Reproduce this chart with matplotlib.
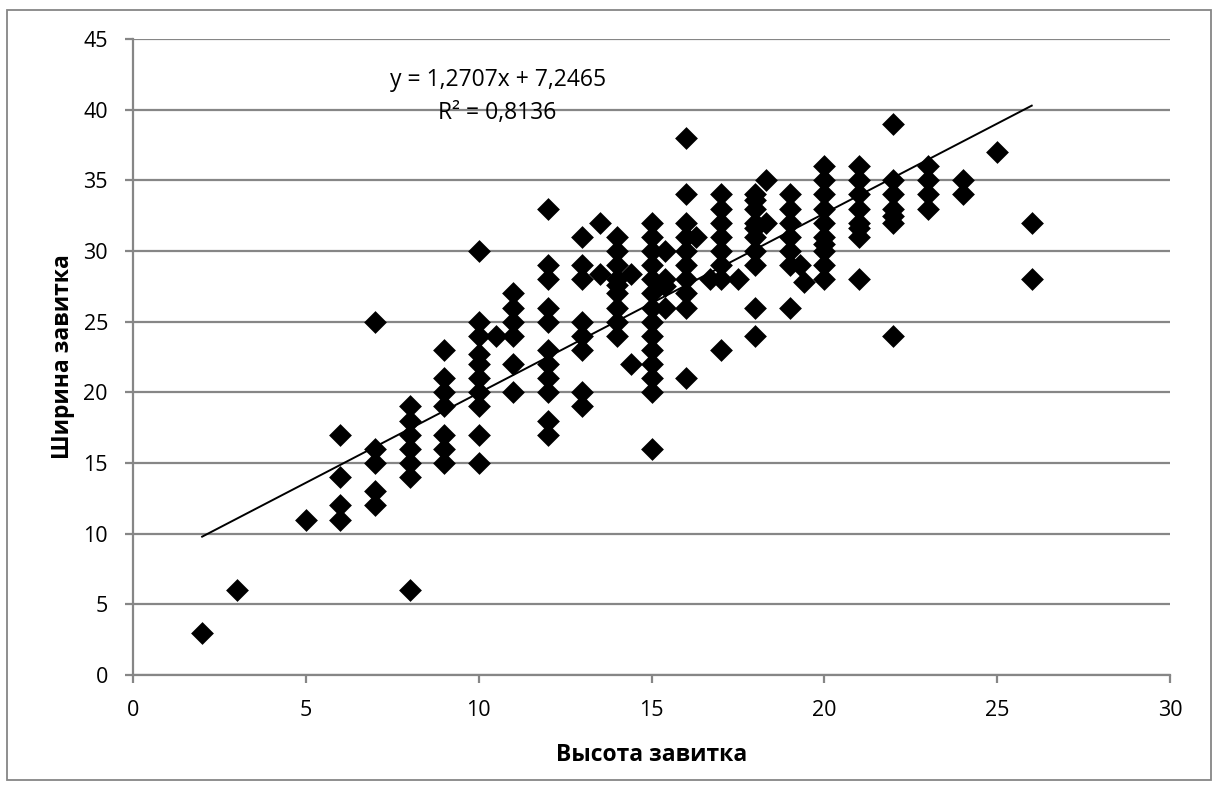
import matplotlib
matplotlib.use("Agg")
import matplotlib.pyplot as plt
from matplotlib.patches import Rectangle
import numpy as np

plt.rcParams['font.family'] = ['Open Sans', 'DejaVu Sans']

# data, grouped by x column
height = ([2] + [3] + [5] + [6]*4 + [7]*5 + [8]*7 + [9]*7 + [10]*10 + [10.5]
          + [11]*6 + [12]*11 + [13]*8 + [13.5]*2 + [14]*9 + [14.4]*2 + [15]*14
          + [15.4]*4 + [16]*10 + [16.3] + [16.7] + [17]*8 + [17.5] + [18]*10
          + [18.3]*2 + [19]*7 + [19.3] + [19.4] + [20]*10 + [21]*8 + [22]*7
          + [23]*4 + [24]*2 + [25] + [26]*2)
width = ([3] + [6] + [11] + [11, 12, 14, 17] + [12, 13, 15, 16, 25]
         + [6, 14, 15, 16, 17, 18, 19] + [15, 16, 17, 19, 20, 21, 23]
         + [15, 17, 19, 20, 21, 22, 22.7, 24, 25, 30] + [24]
         + [20, 22, 24, 25, 26, 27]
         + [17, 18, 20, 21, 22, 23, 25, 26, 28, 29, 33]
         + [19, 20, 23, 24, 25, 28, 29, 31] + [28.4, 32]
         + [24, 25, 26, 27, 27.6, 28, 29, 30, 31] + [22, 28.4]
         + [16, 20, 21, 22, 23, 24, 25, 26, 27, 28, 29, 30, 31, 32]
         + [26, 27.5, 28, 30]
         + [21, 26, 27, 28, 29, 30, 31, 32, 34, 38] + [31] + [28]
         + [23, 28, 29, 30, 31, 32, 33, 34] + [28]
         + [24, 26, 29, 30, 31, 31.6, 32, 33, 33.6, 34] + [32, 35]
         + [26, 29, 30, 31, 32, 33, 34] + [29] + [27.8]
         + [28, 29, 30, 30.5, 31, 32, 33, 34, 35, 36]
         + [28, 31, 31.6, 32, 33, 34, 35, 36]
         + [24, 32, 32.5, 33, 34, 35, 39] + [33, 34, 35, 36] + [34, 35]
         + [37] + [28, 32])

slope = 1.2707
intercept = 7.2465
r2 = 0.8136

W, H = 1216, 791
fig = plt.figure(figsize=(W/100, H/100), dpi=100)
ax = fig.add_axes([133/W, (H-675)/H, (1170-133)/W, (675-39)/H])

grey = '#868686'
ax.scatter(height, width, marker='D', s=135, color='black', zorder=3, linewidths=0)

xs = np.array([min(height), max(height)])
ax.plot(xs, slope*xs + intercept, color='black', lw=1.4, zorder=4)

ax.set_xlim(0, 30)
ax.set_ylim(0, 45)
ax.set_xticks(range(0, 31, 5))
ax.set_yticks(range(0, 46, 5))
ax.yaxis.grid(True, color=grey, lw=1.6)
ax.set_axisbelow(True)
for s in ['top', 'right']:
    ax.spines[s].set_visible(False)
for s in ['left', 'bottom']:
    ax.spines[s].set_color(grey)
    ax.spines[s].set_linewidth(1.6)
ax.tick_params(axis='both', colors=grey, length=6, width=1.6, labelsize=15.5,
               labelcolor='black', pad=12)

ax.set_xlabel('Высота завитка', fontsize=16.5, fontweight='bold', labelpad=16)
ax.set_ylabel('Ширина завитка', fontsize=16.5, fontweight='bold', labelpad=6)

ax.text(10.55, 42.1, 'y = ' + f'{slope:.4f}'.replace('.', ',') + 'x + '
        + f'{intercept:.4f}'.replace('.', ','), ha='center', va='center', fontsize=16.5)
ax.text(10.55, 39.75, 'R² = ' + f'{r2:.4f}'.replace('.', ','),
        ha='center', va='center', fontsize=16.5)

fig.patches.append(Rectangle((7/W, 11/H), 1204/W, 770/H, transform=fig.transFigure,
                             fill=False, edgecolor=grey, lw=1.3))

fig.savefig('out.png', dpi=100)
